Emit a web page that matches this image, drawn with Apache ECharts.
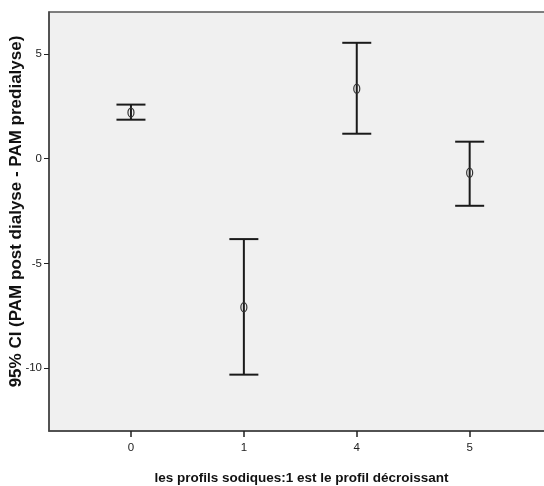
<!DOCTYPE html>
<html>
<head>
<meta charset="utf-8">
<script src="https://cdn.jsdelivr.net/npm/echarts@6/dist/echarts.min.js"></script>
<style>html,body{margin:0;padding:0;background:#fff}#c{width:544px;height:486px}</style>
</head>
<body>
<div id="c"></div>
<script>
var categories = ['0', '1', '4', '5'];
var means = [2.20, -7.09, 3.34, -0.67];
var lowers = [1.86, -10.31, 1.19, -2.25];
var uppers = [2.58, -3.84, 5.53, 0.81];
var yTicks = [-10, -5, 0, 5];

var data = categories.map(function (c, i) { return [i, means[i], lowers[i], uppers[i]]; });
var font = '"Liberation Sans Narrow", "Liberation Sans", Arial, sans-serif';

var chart = echarts.init(document.getElementById('c'));
chart.setOption({
  animation: false,
  grid: { left: 49, top: 12, right: -3, bottom: 55, outerBoundsMode: 'none', containLabel: false, show: true, backgroundColor: '#f0f0f0', borderColor: '#555', borderWidth: 1.5 },
  xAxis: {
    type: 'value', min: -0.726, max: 3.685,
    splitLine: { show: false },
    axisLine: { show: true, onZero: false, lineStyle: { color: '#444', width: 1.5 } },
    axisTick: { show: true, customValues: [0, 1, 2, 3], length: 6, lineStyle: { color: '#222', width: 1.5 } },
    axisLabel: { customValues: [0, 1, 2, 3], formatter: function (v) { return categories[Math.round(v)]; }, color: '#222', fontFamily: font, fontSize: 11.5, margin: 11 },
    name: 'les profils sodiques:1 est le profil décroissant',
    nameLocation: 'middle', nameGap: 40, nameMoveOverlap: false,
    nameTextStyle: { fontFamily: font, fontWeight: 'bold', fontSize: 13.5, color: '#111', padding: [0, 0, 0, 7] }
  },
  yAxis: {
    type: 'value', min: -13, max: 7,
    splitLine: { show: false },
    axisLine: { show: true, onZero: false, lineStyle: { color: '#444', width: 1.5 } },
    axisTick: { show: true, customValues: yTicks, length: 5, lineStyle: { color: '#222', width: 1 } },
    axisLabel: { customValues: yTicks, color: '#222', fontFamily: font, fontSize: 11.5, margin: 7 },
    name: '95% CI (PAM post dialyse - PAM predialyse)',
    nameLocation: 'middle', nameGap: 24, nameMoveOverlap: false,
    nameTextStyle: { fontFamily: '"Liberation Sans", Arial, sans-serif', fontWeight: 'bold', fontSize: 17, color: '#111', padding: [0, 0, 0, 20] }
  },
  series: [{
    type: 'custom',
    data: data,
    encode: { x: 0, y: [1, 2, 3] },
    renderItem: function (params, api) {
      var x = api.value(0);
      var m = api.coord([x, api.value(1)]);
      var lo = api.coord([x, api.value(2)]);
      var hi = api.coord([x, api.value(3)]);
      var hw = 14.5;
      var st = { stroke: '#1a1a1a', lineWidth: 2 };
      return {
        type: 'group',
        children: [
          { type: 'line', shape: { x1: m[0], y1: hi[1], x2: m[0], y2: lo[1] }, style: st },
          { type: 'line', shape: { x1: m[0] - hw, y1: hi[1], x2: m[0] + hw, y2: hi[1] }, style: st },
          { type: 'line', shape: { x1: m[0] - hw, y1: lo[1], x2: m[0] + hw, y2: lo[1] }, style: st },
          { type: 'ellipse', shape: { cx: m[0], cy: m[1], rx: 3, ry: 4.5 }, style: { fill: 'none', stroke: '#333', lineWidth: 1.2 } }
        ]
      };
    }
  }]
});
</script>
</body>
</html>
